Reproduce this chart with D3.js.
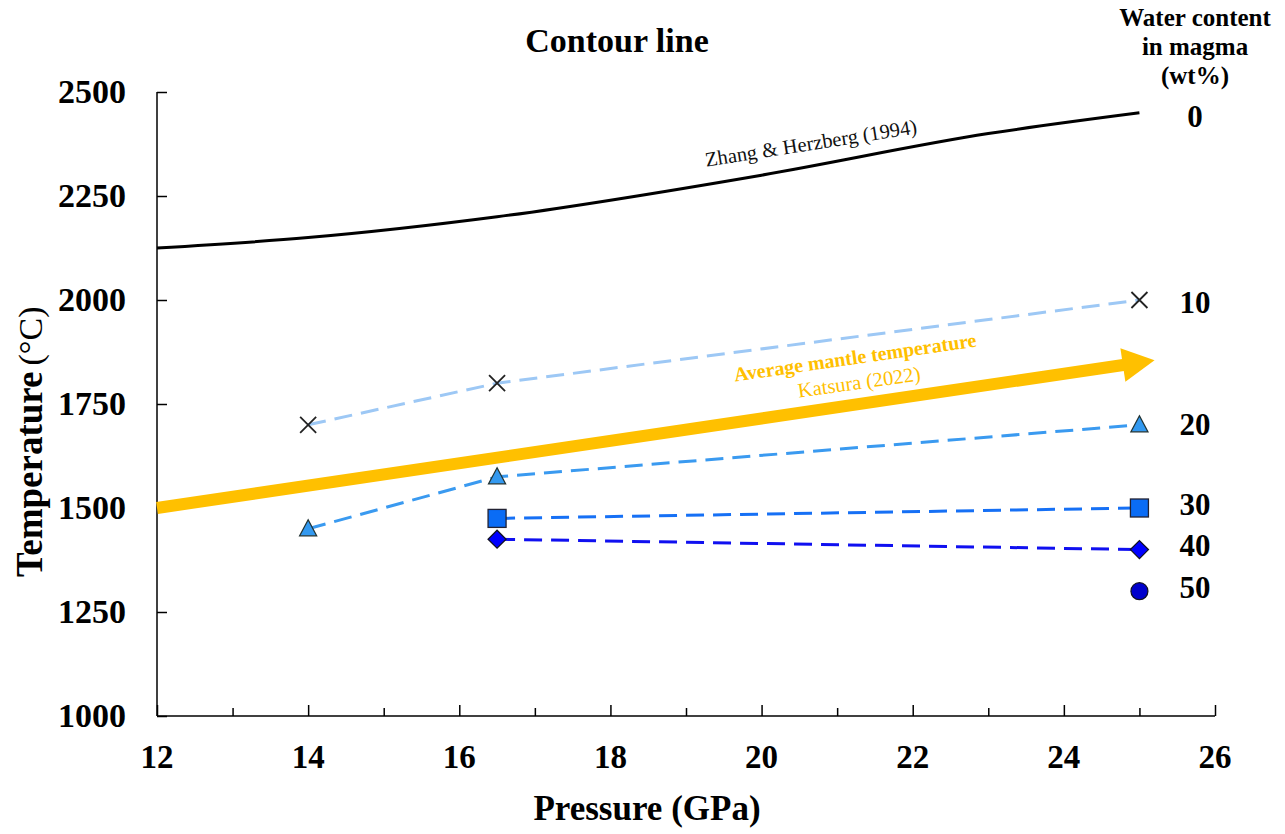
<!DOCTYPE html>
<html><head><meta charset="utf-8">
<script src="https://cdn.jsdelivr.net/npm/d3@7"></script>
<style>body{margin:0;background:#fff}svg{display:block}text{font-family:"Liberation Serif","Times New Roman",serif}</style>
</head><body>
<svg id="c" width="1285" height="834"></svg>
<script>
// ---- data ----
const xTicks = [12,14,16,18,20,22,24,26];
const yTicks = [1000,1250,1500,1750,2000,2250,2500];
const zhangP = [12,14,16.5,20,23,25];
const zhangT = [2125,2150,2200,2300,2400,2450];
const mantleP = [12,25.2];
const mantleT = [1500,1855];
const w10P = [14,16.5,25], w10T = [1700,1800,2000];
const w20P = [14,16.5,25], w20T = [1450,1575,1700];
const w30P = [16.5,25],    w30T = [1475,1500];
const w40P = [16.5,25],    w40T = [1425,1400];
const w50P = [25],         w50T = [1300];
const waterLabels = ["0","10","20","30","40","50"];

const svg = d3.select("#c");
const x = d3.scaleLinear().domain([12,26]).range([157,1215]);
const y = d3.scaleLinear().domain([1000,2500]).range([716,92]);

// axes
const xAxis = d3.axisBottom(x).tickValues(d3.range(12,26.01,1)).tickSizeInner(-11).tickSizeOuter(0).tickFormat("");
const gx = svg.append("g").attr("transform","translate(0,716)").call(xAxis);
gx.selectAll(".tick line").attr("y2", d=> d%2===0 ? -11 : -8);
gx.select(".domain").attr("stroke","#000").attr("stroke-width",1.5).attr("d","M157,0H1215");
gx.selectAll(".tick line").attr("stroke","#000").attr("stroke-width",1.5);
svg.append("g").selectAll("text").data(xTicks).join("text")
  .attr("x",d=>x(d)).attr("y",768).attr("text-anchor","middle")
  .attr("font-size",33).attr("font-weight","bold").text(d=>d);

const yAxis = d3.axisLeft(y).tickValues(yTicks).tickSizeInner(-10).tickSizeOuter(0).tickFormat("");
const gy = svg.append("g").attr("transform","translate(157,0)").call(yAxis);
gy.select(".domain").attr("stroke","#000").attr("stroke-width",1.5).attr("d","M0,92V716");
gy.selectAll(".tick line").attr("stroke","#000").attr("stroke-width",1.5);
svg.append("g").selectAll("text").data(yTicks).join("text")
  .attr("x",126).attr("y",d=>y(d)+11).attr("text-anchor","end")
  .attr("font-size",34).attr("font-weight","bold").text(d=>d);

// titles
svg.append("text").attr("x",617).attr("y",52).attr("text-anchor","middle").attr("font-size",34).attr("font-weight","bold").text("Contour line");
svg.append("text").attr("x",647).attr("y",820).attr("text-anchor","middle").attr("font-size",35).attr("font-weight","bold").text("Pressure (GPa)");
const yl = svg.append("text").attr("transform","translate(42,577) rotate(-90)").attr("text-anchor","start");
yl.append("tspan").attr("font-size",37).attr("font-weight","bold").text("Temperature");
yl.append("tspan").attr("font-size",34).attr("font-weight","normal").attr("dx",6).text("(°C)");

const hdr = ["Water content","in magma","(wt%)"];
svg.append("g").selectAll("text").data(hdr).join("text")
  .attr("x",1195).attr("y",(d,i)=>26+i*29).attr("text-anchor","middle").attr("font-size",25).attr("font-weight","bold").text(d=>d);

const line = d3.line().x(d=>x(d[0])).y(d=>y(d[1]));
const zip = (a,b)=>a.map((v,i)=>[v,b[i]]);

// Zhang & Herzberg
svg.append("path").datum(zip(zhangP,zhangT)).attr("d",line.curve(d3.curveMonotoneX)).attr("fill","none").attr("stroke","#000").attr("stroke-width",3);
line.curve(d3.curveLinear);
svg.append("text").attr("transform","translate(812,150) rotate(-9)").attr("text-anchor","middle").attr("font-size",20.5).attr("fill","#111").text("Zhang & Herzberg (1994)");

// mantle arrow
const a0=[x(mantleP[0]),y(mantleT[0])], a1=[x(mantleP[1]),y(mantleT[1])];
const ang = Math.atan2(a1[1]-a0[1],a1[0]-a0[0]);
const hl=32, hw=17;
const bx=a1[0]-hl*Math.cos(ang), by=a1[1]-hl*Math.sin(ang);
svg.append("line").attr("x1",a0[0]).attr("y1",a0[1]).attr("x2",bx+2*Math.cos(ang)).attr("y2",by+2*Math.sin(ang)).attr("stroke","#ffc000").attr("stroke-width",12);
svg.append("path").attr("d",`M${a1[0]},${a1[1]}L${bx-hw*Math.sin(ang)},${by+hw*Math.cos(ang)}L${bx+hw*Math.sin(ang)},${by-hw*Math.cos(ang)}Z`).attr("fill","#ffc000");
svg.append("text").attr("transform","translate(856,364) rotate(-8.2)").attr("text-anchor","middle").attr("font-size",20).attr("font-weight","bold").attr("fill","#ffc000").text("Average mantle temperature");
svg.append("text").attr("transform","translate(860,389) rotate(-8)").attr("text-anchor","middle").attr("font-size",20.5).attr("fill","#ffc000").text("Katsura (2022)");

// series lines
const dash="18,9";
[[w10P,w10T,"#9dc8f5"],[w20P,w20T,"#3a9af0"],[w30P,w30T,"#1670f5"],[w40P,w40T,"#1010f0"]].forEach(([p,t,c])=>{
  svg.append("path").datum(zip(p,t)).attr("d",line).attr("fill","none").attr("stroke",c).attr("stroke-width",3).attr("stroke-dasharray",dash);
});

// markers
const m = svg.append("g");
zip(w10P,w10T).forEach(d=>{const cx=x(d[0]),cy=y(d[1]),s=8;
  m.append("path").attr("d",`M${cx-s},${cy-s}L${cx+s},${cy+s}M${cx-s},${cy+s}L${cx+s},${cy-s}`).attr("stroke","#222").attr("stroke-width",1.8);});
zip(w20P,w20T).forEach(d=>{const cx=x(d[0]),cy=y(d[1]);
  m.append("path").attr("d",`M${cx},${cy-9}L${cx+8.5},${cy+7}L${cx-8.5},${cy+7}Z`).attr("fill","#3399f0").attr("stroke","#233").attr("stroke-width",1.3);});
zip(w30P,w30T).forEach(d=>{const cx=x(d[0]),cy=y(d[1]);
  m.append("rect").attr("x",cx-9).attr("y",cy-9).attr("width",18).attr("height",18).attr("fill","#0a6cf5").attr("stroke","#223").attr("stroke-width",1.3);});
zip(w40P,w40T).forEach(d=>{const cx=x(d[0]),cy=y(d[1]);
  m.append("path").attr("d",`M${cx},${cy-9}L${cx+9},${cy}L${cx},${cy+9}L${cx-9},${cy}Z`).attr("fill","#0000ff").attr("stroke","#112").attr("stroke-width",1.3);});
zip(w50P,w50T).forEach(d=>{
  m.append("circle").attr("cx",x(d[0])).attr("cy",y(d[1])).attr("r",8.5).attr("fill","#0000cc").attr("stroke","#112").attr("stroke-width",1.2);});

// right labels
const lastT = [zhangT[zhangT.length-1], w10T[2], w20T[2], w30T[1], w40T[1], w50T[0]];
const lblOff = [14,13,10,7,6,7];
svg.append("g").selectAll("text").data(waterLabels).join("text")
  .attr("x",1195).attr("y",(d,i)=>y(lastT[i])+lblOff[i]).attr("text-anchor","middle")
  .attr("font-size",31).attr("font-weight","bold").text(d=>d);
</script>
</body></html>
